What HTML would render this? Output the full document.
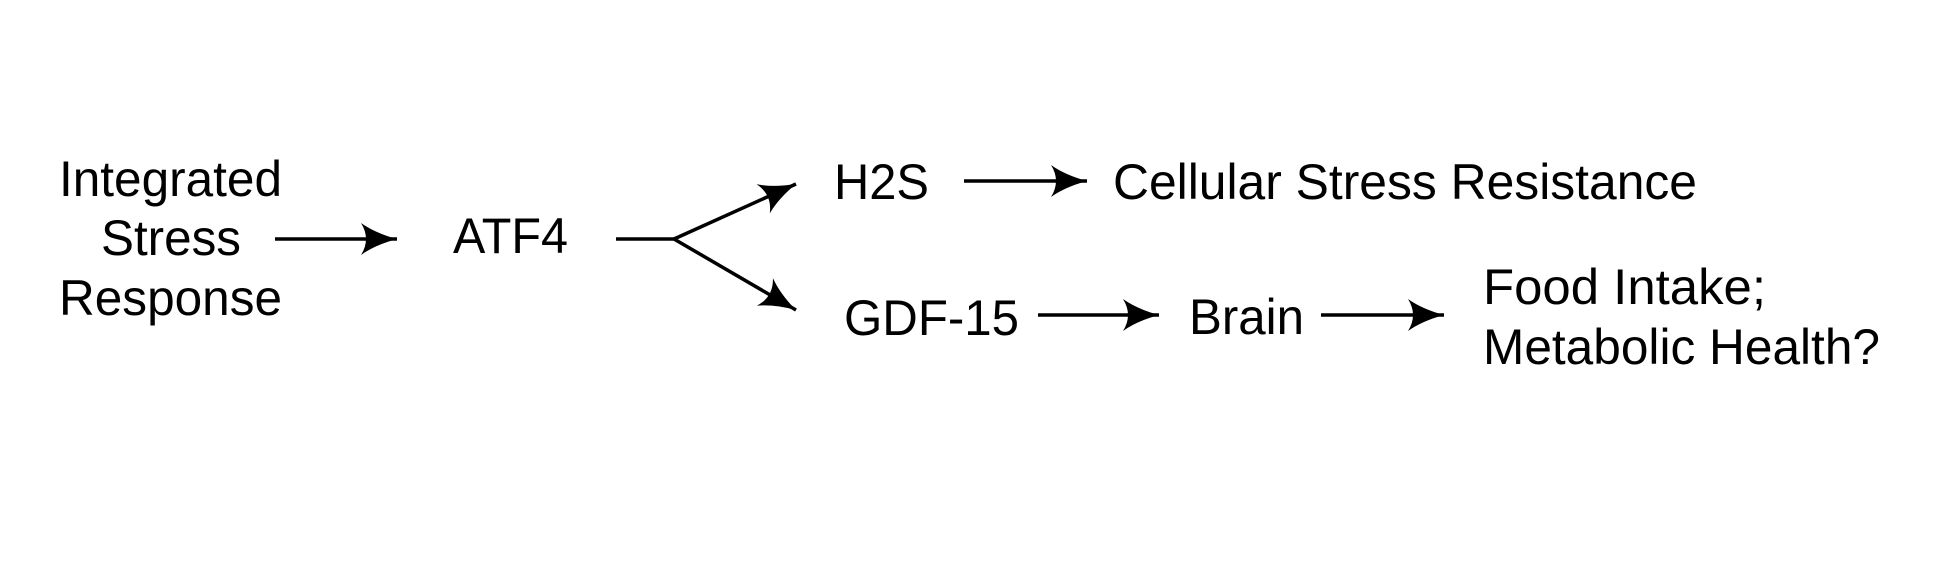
<!DOCTYPE html>
<html><head><meta charset="utf-8"><style>
html,body{margin:0;padding:0;background:#fff;}
svg{display:block;}
text{font-family:"Liberation Sans",Arial,sans-serif;font-size:50px;fill:#000;}
</style></head><body>
<svg width="1959" height="567" viewBox="0 0 1959 567" xmlns="http://www.w3.org/2000/svg">
<defs>
<marker id="ah" markerUnits="userSpaceOnUse" markerWidth="40" markerHeight="34" refX="36" refY="16" orient="auto">
<path d="M0,0 Q14,10 36,16 Q14,22 0,32 Q10,16 0,0 Z" fill="#000"/>
</marker>
</defs>
<g stroke="#000" stroke-width="3.5" fill="none">
<line x1="275" y1="239" x2="397" y2="239" marker-end="url(#ah)"/>
<polyline points="616,239 674,239"/>
<line x1="674" y1="239" x2="796" y2="184" marker-end="url(#ah)"/>
<line x1="674" y1="239" x2="796" y2="310" marker-end="url(#ah)"/>
<line x1="964" y1="181" x2="1087" y2="181" marker-end="url(#ah)"/>
<line x1="1038" y1="315" x2="1159" y2="315" marker-end="url(#ah)"/>
<line x1="1321" y1="315" x2="1444" y2="315" marker-end="url(#ah)"/>
</g>
<text x="59" y="196" textLength="223" lengthAdjust="spacingAndGlyphs">Integrated</text>
<text x="101" y="255" textLength="140" lengthAdjust="spacingAndGlyphs">Stress</text>
<text x="59" y="315" textLength="223" lengthAdjust="spacingAndGlyphs">Response</text>
<text x="453" y="253" textLength="115" lengthAdjust="spacingAndGlyphs">ATF4</text>
<text x="834" y="199" textLength="95" lengthAdjust="spacingAndGlyphs">H2S</text>
<text x="1113" y="199" textLength="584" lengthAdjust="spacingAndGlyphs">Cellular Stress Resistance</text>
<text x="844" y="335" textLength="175" lengthAdjust="spacingAndGlyphs">GDF-15</text>
<text x="1189" y="334" textLength="115" lengthAdjust="spacingAndGlyphs">Brain</text>
<text x="1483" y="304" textLength="283" lengthAdjust="spacingAndGlyphs">Food Intake;</text>
<text x="1483" y="364" textLength="397" lengthAdjust="spacingAndGlyphs">Metabolic Health?</text>
</svg>
</body></html>
